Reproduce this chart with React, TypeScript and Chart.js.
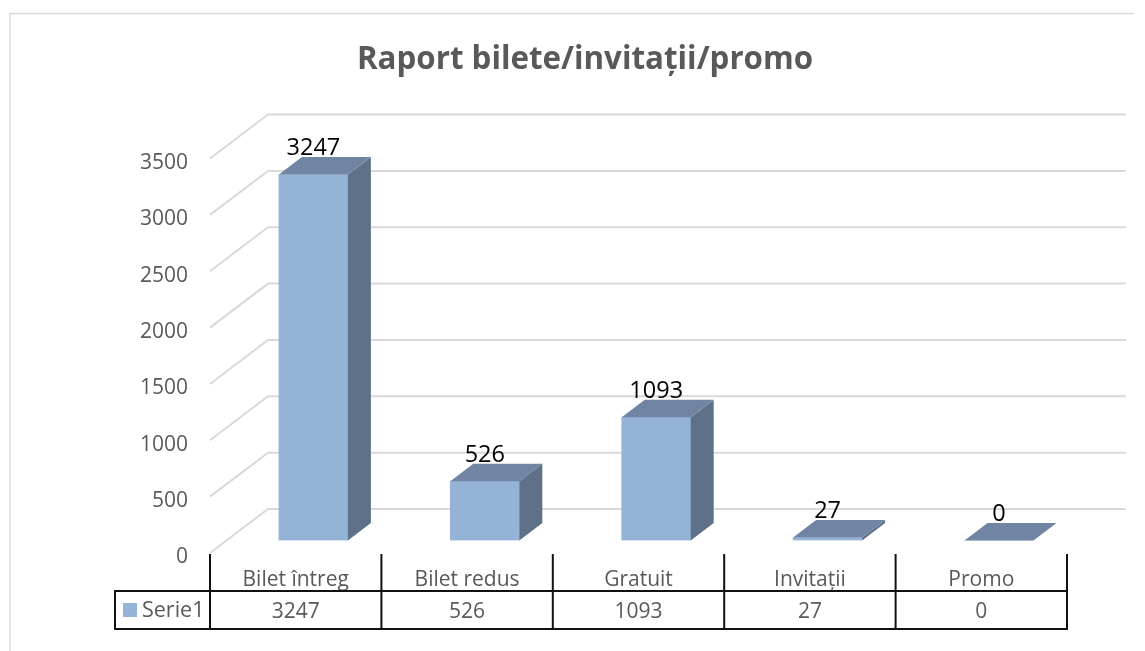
import React, { useEffect, useRef } from "react";
import { Chart, registerables } from "chart.js";

Chart.register(...registerables);

const categories = ["Bilet întreg", "Bilet redus", "Gratuit", "Invitații", "Promo"];
const serie1 = [3247, 526, 1093, 27, 0];
const seriesName = "Serie1";
const chartTitle = "Raport bilete/invitații/promo";

const FONT = '"Open Sans", sans-serif';
const FRONT = "#95b3d7";
const TOP = "#7085a3";
const SIDE = "#5f7189";
const GRID = "#d9d9d9";
const TEXT = "#595959";
const DEPTH_X = 23;
const DEPTH_Y = 17.5;
const BAR_SHIFT_X = 17.7;
const BAR_SHIFT_Y = -12.5;
const WALL_X = 58;
const WALL_Y = -44;

const threeD = {
  id: "threeD",
  beforeDatasetsDraw(chart: any) {
    const { ctx } = chart;
    const y = chart.scales.y;
    const x = chart.scales.x;
    ctx.save();
    ctx.strokeStyle = GRID;
    ctx.lineWidth = 2;
    y.ticks.forEach((t: any) => {
      const py = y.getPixelForValue(t.value);
      ctx.beginPath();
      ctx.moveTo(x.left, py);
      ctx.lineTo(x.left + WALL_X, py + WALL_Y);
      ctx.lineTo(x.right + WALL_X + 1, py + WALL_Y);
      ctx.stroke();
    });
    ctx.restore();
    ctx.save();
    ctx.translate(BAR_SHIFT_X, BAR_SHIFT_Y);
  },
  afterDatasetsDraw(chart: any) {
    const { ctx } = chart;
    const meta = chart.getDatasetMeta(0);
    meta.data.forEach((bar: any) => {
      const l = bar.x - bar.width / 2;
      const r = bar.x + bar.width / 2;
      const t = bar.y;
      const b = bar.base;
      ctx.fillStyle = SIDE;
      ctx.beginPath();
      ctx.moveTo(r, t);
      ctx.lineTo(r + DEPTH_X, t - DEPTH_Y);
      ctx.lineTo(r + DEPTH_X, b - DEPTH_Y);
      ctx.lineTo(r, b);
      ctx.closePath();
      ctx.fill();
      ctx.fillStyle = TOP;
      ctx.beginPath();
      ctx.moveTo(l, t);
      ctx.lineTo(l + DEPTH_X, t - DEPTH_Y);
      ctx.lineTo(r + DEPTH_X, t - DEPTH_Y);
      ctx.lineTo(r, t);
      ctx.closePath();
      ctx.fill();
    });
    ctx.fillStyle = "#000000";
    ctx.font = `23.5px ${FONT}`;
    ctx.textAlign = "center";
    ctx.textBaseline = "middle";
    meta.data.forEach((bar: any, i: number) => {
      ctx.fillText(String(serie1[i]), bar.x, bar.y - 26);
    });
    ctx.restore();
  },
  afterDraw(chart: any) {
    const { ctx } = chart;
    const x = chart.scales.x;
    const yBase = chart.scales.y.bottom;
    const rowTop = yBase + 38;
    const rowBottom = yBase + 76;
    const tableLeft = 115;
    ctx.save();
    ctx.strokeStyle = GRID;
    ctx.lineWidth = 1.5;
    ctx.beginPath();
    ctx.moveTo(10, 651);
    ctx.lineTo(10, 13.5);
    ctx.lineTo(1134, 13.5);
    ctx.stroke();

    ctx.strokeStyle = "#111111";
    ctx.lineWidth = 2;
    ctx.beginPath();
    const band = (x.right - x.left) / categories.length;
    for (let i = 0; i <= categories.length; i++) {
      const px = x.left + band * i;
      ctx.moveTo(px, yBase + 1);
      ctx.lineTo(px, rowBottom + 1);
    }
    ctx.moveTo(tableLeft - 1, rowTop);
    ctx.lineTo(x.right + 1, rowTop);
    ctx.moveTo(tableLeft - 1, rowBottom);
    ctx.lineTo(x.right + 1, rowBottom);
    ctx.moveTo(tableLeft, rowTop);
    ctx.lineTo(tableLeft, rowBottom);
    ctx.stroke();

    ctx.fillStyle = FRONT;
    ctx.fillRect(123, rowTop + 12, 14, 14);
    ctx.fillStyle = TEXT;
    ctx.textBaseline = "middle";
    ctx.textAlign = "left";
    ctx.font = `21.5px ${FONT}`;
    ctx.fillText(seriesName, 142, rowTop + 20);
    ctx.textAlign = "center";
    ctx.font = `21px ${FONT}`;
    serie1.forEach((v, i) => {
      ctx.fillText(String(v), x.getPixelForValue(i), rowTop + 21);
    });
    ctx.restore();
  },
};

export default function App() {
  const ref = useRef<HTMLCanvasElement | null>(null);
  useEffect(() => {
    document.body.style.margin = "0";
    const chart = new Chart(ref.current as HTMLCanvasElement, {
      type: "bar",
      data: {
        labels: categories,
        datasets: [
          {
            label: seriesName,
            data: serie1,
            backgroundColor: FRONT,
            barThickness: 69,
          },
        ],
      },
      options: {
        animation: false,
        responsive: false,
        layout: { autoPadding: false, padding: { left: 103, right: 78, top: 0, bottom: 0 } },
        plugins: {
          legend: { display: false },
          tooltip: { enabled: false },
          title: {
            display: true,
            text: chartTitle,
            color: TEXT,
            font: { family: FONT, size: 31.3, weight: "bold", lineHeight: 1.2 },
            padding: { top: 41, bottom: 80 },
          },
        },
        scales: {
          x: {
            grid: { display: false },
            border: { display: false },
            afterFit(s: any) {
              s.height = 98;
            },
            ticks: {
              color: TEXT,
              font: { family: FONT, size: 21 },
              padding: 6,
              maxRotation: 0,
              minRotation: 0,
            },
          },
          y: {
            min: 0,
            max: 3500,
            grid: { display: false, drawTicks: false },
            border: { display: false },
            afterFit(s: any) {
              s.width = 107;
            },
            ticks: {
              stepSize: 500,
              color: TEXT,
              font: { family: FONT, size: 21 },
              padding: 22,
              labelOffset: 4.5,
              callback: (v: any) => String(v),
            },
          },
        },
      } as any,
      plugins: [threeD],
    });
    return () => chart.destroy();
  }, []);
  return <canvas ref={ref} width={1145} height={651} style={{ display: "block" }} />;
}
